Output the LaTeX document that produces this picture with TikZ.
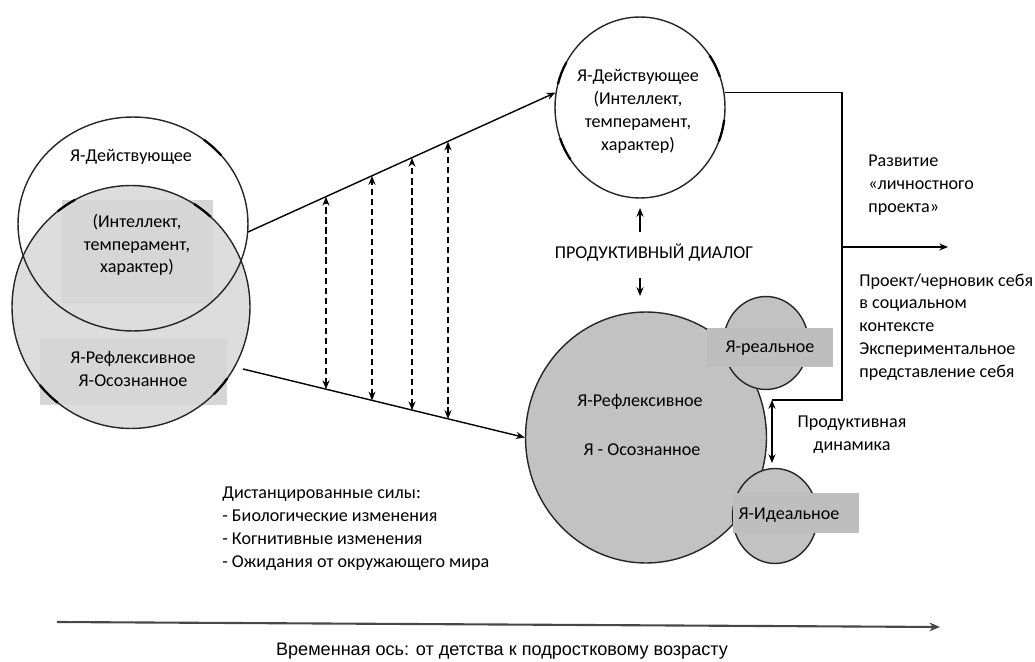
\documentclass[tikz,border=0pt]{standalone}
\usepackage{fontspec}
\setmainfont{Carlito}
\newfontfamily\axisfont{Liberation Sans}
\usetikzlibrary{shapes.geometric,arrows.meta}

\definecolor{lightfill}{RGB}{221,221,221}
\definecolor{boxgray}{RGB}{214,214,214}
\definecolor{darkfill}{RGB}{194,194,194}
\definecolor{darkbox}{RGB}{190,190,190}

\begin{document}
\begin{tikzpicture}[x=0.02cm,y=-0.02cm,
  font=\fontsize{10.3}{13}\selectfont,
  ring/.style={ellipse, draw=black!85, line width=0.8pt, inner sep=0pt},
  lbl/.style={align=center, inner sep=0pt},
  rlbl/.style={align=left, anchor=west, inner sep=0pt},
  tick/.style={line width=1.3pt, black},
  conn/.style={line width=0.8pt, -{Stealth[length=5pt,width=4pt]}},
  plain/.style={line width=0.8pt},
  dashedarrow/.style={line width=0.8pt, dash pattern=on 3.5pt off 2.2pt,
    {Stealth[length=5pt,width=4pt]}-{Stealth[length=5pt,width=4pt]}},
  twoway/.style={line width=0.8pt,
    {Stealth[length=5pt,width=4pt]}-{Stealth[length=5pt,width=4pt]}},
  boxnode/.style={draw=none, inner sep=0pt},
]
\useasboundingbox (0,0) rectangle (1035,662);

% ---------- left: two overlapping circles ----------
\fill[lightfill] (131,307) ellipse [x radius=2.38cm, y radius=2.43cm];
\node[boxnode, fill=boxgray, minimum width=3.02cm, minimum height=2.06cm] (intelbox) at (137.5,251.5) {};
\node[boxnode, fill=boxgray, minimum width=3.74cm, minimum height=1.34cm] (reflbox) at (133.5,371.5) {};
\node[ring, minimum width=4.6cm, minimum height=4.28cm] (act) at (133,224) {};
\node[ring, minimum width=4.76cm, minimum height=4.86cm] (refl) at (131,307) {};

% heavier strokes along the outlines
\draw[tick] (act.center) ++(40:2.3cm and 2.14cm) arc[start angle=40, end angle=52, x radius=2.3cm, y radius=2.14cm];
\draw[tick] (refl.center) ++(118:2.38cm and 2.43cm) arc[start angle=118, end angle=128, x radius=2.38cm, y radius=2.43cm];
\draw[tick] (refl.center) ++(48:2.38cm and 2.43cm) arc[start angle=48, end angle=58, x radius=2.38cm, y radius=2.43cm];
\draw[tick] (refl.center) ++(220:2.38cm and 2.43cm) arc[start angle=220, end angle=232, x radius=2.38cm, y radius=2.43cm];
\draw[tick] (refl.center) ++(-46:2.38cm and 2.43cm) arc[start angle=-46, end angle=-36, x radius=2.38cm, y radius=2.43cm];

\node[lbl] (actlbl) at (131,157) {Я-Действующее};
\node[lbl] (intellbl) at (137,245) {(Интеллект,\\темперамент,\\характер)};
\node[lbl] (refllbl) at (133,369) {Я-Рефлексивное\\Я-Осознанное};

% ---------- top right circle ----------
\node[ring, fill=white, minimum width=3.4cm, minimum height=3.62cm] (rtop) at (640,107.5) {};
\node[lbl] (rtoplbl) at (638,111.5) {Я-Действующее\\(Интеллект,\\темперамент,\\характер)};
\draw[tick] (rtop.center) ++(150:1.7cm and 1.81cm) arc[start angle=150, end angle=165, x radius=1.7cm, y radius=1.81cm];
\draw[tick] (rtop.center) ++(200:1.7cm and 1.81cm) arc[start angle=200, end angle=215, x radius=1.7cm, y radius=1.81cm];
\draw[tick] (rtop.center) ++(20:1.7cm and 1.81cm) arc[start angle=20, end angle=35, x radius=1.7cm, y radius=1.81cm];
\draw[tick] (rtop.center) ++(-22:1.7cm and 1.81cm) arc[start angle=-22, end angle=-8, x radius=1.7cm, y radius=1.81cm];

% ---------- bottom right circles ----------
\node[ring, fill=darkfill, minimum width=4.82cm, minimum height=5.02cm] (big) at (646,437.5) {};
\node[ring, fill=darkfill, minimum width=1.7cm, minimum height=1.86cm] (real) at (766,343) {};
\node[ring, fill=darkfill, minimum width=1.7cm, minimum height=1.9cm] (ideal) at (775,516) {};
\node[boxnode, fill=darkbox, minimum width=2.52cm, minimum height=0.78cm] (realbox) at (770,347.5) {};
\node[boxnode, fill=darkbox, minimum width=2.52cm, minimum height=0.8cm] (idealbox) at (796,513) {};
\node[lbl] (reallbl) at (770,348) {Я-реальное};
\node[lbl] (ideallbl) at (789,515) {Я-Идеальное};
\node[lbl] (biglbl1) at (640,402) {Я-Рефлексивное};
\node[lbl] (biglbl2) at (642,450) {Я - Осознанное};

% ---------- connectors from left to right ----------
\coordinate (actout) at (248,232);
\coordinate (reflout) at (243,369);
\draw[conn] (actout) -- (rtop.170);
\draw[conn] (reflout) -- (big.west);

\coordinate (u1) at (326,196.8); \coordinate (l1) at (326,389.2);
\coordinate (u2) at (372,176.0); \coordinate (l2) at (372,400.4);
\coordinate (u3) at (412,158.0); \coordinate (l3) at (412,410.2);
\coordinate (u4) at (448,141.7); \coordinate (l4) at (448,418.9);
\draw[dashedarrow] (l1) -- (u1);
\draw[dashedarrow] (l2) -- (u2);
\draw[dashedarrow] (l3) -- (u3);
\draw[dashedarrow] (l4) -- (u4);

% ---------- productive dialogue ----------
\node[lbl] (dialog) at (654,253) {ПРОДУКТИВНЫЙ ДИАЛОГ};
\coordinate (dlgup0) at (640,232); \coordinate (dlgup1) at (640,208);
\coordinate (dlgdn0) at (640,278); \coordinate (dlgdn1) at (640,296);
\draw[conn] (dlgup0) -- (dlgup1);
\draw[conn] (dlgdn0) -- (dlgdn1);

% ---------- right bracket and output ----------
\coordinate (bend) at (842,400);
\coordinate (dyntop) at (772,400);
\coordinate (dynbot) at (772,463);
\coordinate (branch) at (842,247);
\coordinate (outend) at (948,247);
\draw[plain] (rtop.10) -| (bend) -- (dyntop);
\draw[conn] (branch) -- (outend);
\draw[twoway] (dyntop) -- (dynbot);

\node[rlbl] (project) at (868,185) {Развитие\\«личностного\\проекта»};
\node[rlbl] (draft) at (859,327) {Проект/черновик себя\\в социальном\\контексте\\Экспериментальное\\представление себя};
\node[lbl] (dynlbl) at (852,435) {Продуктивная\\динамика};

% ---------- forces ----------
\node[rlbl] (forces) at (222,528.5) {Дистанцированные силы:\\- Биологические изменения\\- Когнитивные изменения\\- Ожидания от окружающего мира};

% ---------- time axis ----------
\coordinate (axstart) at (57,622);
\coordinate (axend) at (940,627);
\draw[line width=1.2pt, black!72, -{Stealth[length=6pt,width=5pt]}] (axstart) -- (axend);
\node[lbl, font=\axisfont\fontsize{10.3}{12}\selectfont] (axislbl) at (502,651) {Временная ось: от детства к подростковому возрасту};
\end{tikzpicture}
\end{document}
